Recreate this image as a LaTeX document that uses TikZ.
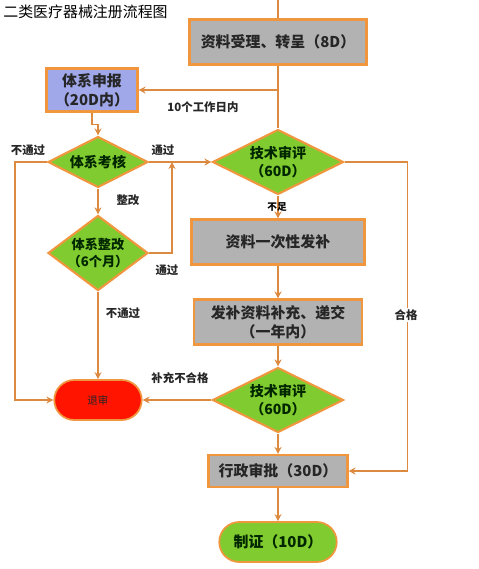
\documentclass[tikz,border=0pt]{standalone}
\usepackage{fontspec}
\usetikzlibrary{arrows.meta,shapes.geometric,shapes.misc,positioning}
\newfontfamily\cjk{Noto Sans CJK SC}
\definecolor{EdgeOrange}{HTML}{F0963F}
\definecolor{LineOrange}{HTML}{DC8A40}
\definecolor{BoxGray}   {HTML}{B2B2B2}
\definecolor{SysBlue}   {HTML}{A0A8EA}
\definecolor{LeafGreen} {HTML}{80CC30}
\definecolor{StopRed}   {HTML}{FF1400}
\definecolor{InkDark}   {HTML}{262626}
\tikzset{
  gbox/.style={rectangle,draw=EdgeOrange,line width=1.2pt,fill=BoxGray,
               font=\cjk\bfseries\fontsize{8.5}{11}\selectfont\color{InkDark},
               align=center,inner sep=1pt},
  dbox/.style={diamond,draw=EdgeOrange,line width=1.2pt,fill=LeafGreen,
               font=\cjk\bfseries\fontsize{8}{10}\selectfont\color{green!15!black},
               align=center,inner sep=0pt},
  term/.style={rounded rectangle,draw=EdgeOrange,line width=1pt,fill=#1,
               align=center,inner sep=1pt},
  arr/.style={-{Stealth[length=4pt,width=4pt]},line width=0.9pt,color=LineOrange},
  lin/.style={line width=0.9pt,color=LineOrange},
  lbl/.style={font=\cjk\bfseries\fontsize{6.5}{8}\selectfont\color{InkDark},inner sep=1pt},
}
\begin{document}
\begin{tikzpicture}[x=0.02cm,y=-0.02cm]
  \useasboundingbox (0,0) rectangle (479,569);

  \node[anchor=west,font=\cjk\fontsize{8.5}{10}\selectfont,inner sep=0pt] (title) at (3,12)
    {二类医疗器械注册流程图};

  % main column
  \coordinate (top) at (278,0);
  \node[gbox,minimum width=3.54cm,minimum height=0.9cm] (accept) at (278,42)
    {资料受理、转呈（8D）};
  \node[gbox,fill=SysBlue,minimum width=1.82cm,minimum height=0.86cm] (apply) at (92,90)
    {体系申报\\（20D内）};
  \node[dbox,aspect=2,minimum width=2cm,minimum height=1.02cm] (check) at (98,162)
    {体系考核};
  \node[dbox,aspect=1.33,minimum width=2cm,minimum height=1.5cm,
        font=\cjk\bfseries\fontsize{7.5}{9.5}\selectfont\color{green!15!black}] (fix) at (98,253)
    {体系整改\\（6个月）};
  \node[term=StopRed,minimum width=1.82cm,minimum height=0.8cm,
        font=\cjk\fontsize{6}{7}\selectfont\color{InkDark}] (reject) at (98,400)
    {退审};
  \node[dbox,aspect=2,minimum width=2.62cm,minimum height=1.3cm] (tech1) at (278,162)
    {技术审评\\（60D）};
  \node[gbox,minimum width=3.46cm,minimum height=0.9cm] (notice) at (278,242)
    {资料一次性发补};
  \node[gbox,minimum width=3.36cm,minimum height=0.9cm] (resub) at (278,322)
    {发补资料补充、递交\\（一年内）};
  \node[dbox,aspect=2,minimum width=2.62cm,minimum height=1.3cm] (tech2) at (278,400)
    {技术审评\\（60D）};
  \node[gbox,minimum width=2.78cm,minimum height=0.64cm] (admin) at (278,471)
    {行政审批（30D）};
  \node[term=LeafGreen,minimum width=2.42cm,minimum height=0.8cm,
        font=\cjk\bfseries\fontsize{8.5}{10}\selectfont\color{green!15!black}] (cert) at (278,542)
    {制证（10D）};
  \coordinate (join) at (172,162);

  % connectors
  \draw[lin] (top) -- (accept.north);
  \draw[lin] (accept.south) -- (tech1.north);
  \draw[arr] (accept.south |- apply.east) -- (apply.east);
  \draw[arr] (apply.south) -- ++(0,12) -| (check.north);
  \draw[arr] (check.west) -- ++(-32,0) |- (reject.west);
  \draw[arr] (check.east) -- (tech1.west);
  \draw[arr] (check.south) -- (fix.north);
  \draw[arr] (fix.east) -| (join);
  \draw[arr] (fix.south) -- (reject.north);
  \draw[arr] (tech1.south) -- (notice.north);
  \draw[arr] (notice.south) -- (resub.north);
  \draw[arr] (resub.south) -- (tech2.north);
  \draw[arr] (tech2.west) -- (reject.east);
  \draw[arr] (tech2.south) -- (admin.north);
  \draw[arr] (tech1.east) -- ++(63,0) |- (admin.east);
  \draw[arr] (admin.south) -- (cert.north);

  % labels
  \node[lbl] (l1) at (203,107) {10个工作日内};
  \node[lbl] (l2) at (28,150) {不通过};
  \node[lbl] (l3) at (163,150) {通过};
  \node[lbl] (l4) at (128,200) {整改};
  \node[lbl] (l5) at (167,270) {通过};
  \node[lbl] (l6) at (123,313) {不通过};
  \node[lbl,font=\cjk\bfseries\fontsize{5.5}{7}\selectfont] (l7) at (277,207) {不足};
  \node[lbl] (l8) at (180,378) {补充不合格};
  \node[lbl,fill=white] (l9) at (406,315) {合格};
\end{tikzpicture}
\end{document}
